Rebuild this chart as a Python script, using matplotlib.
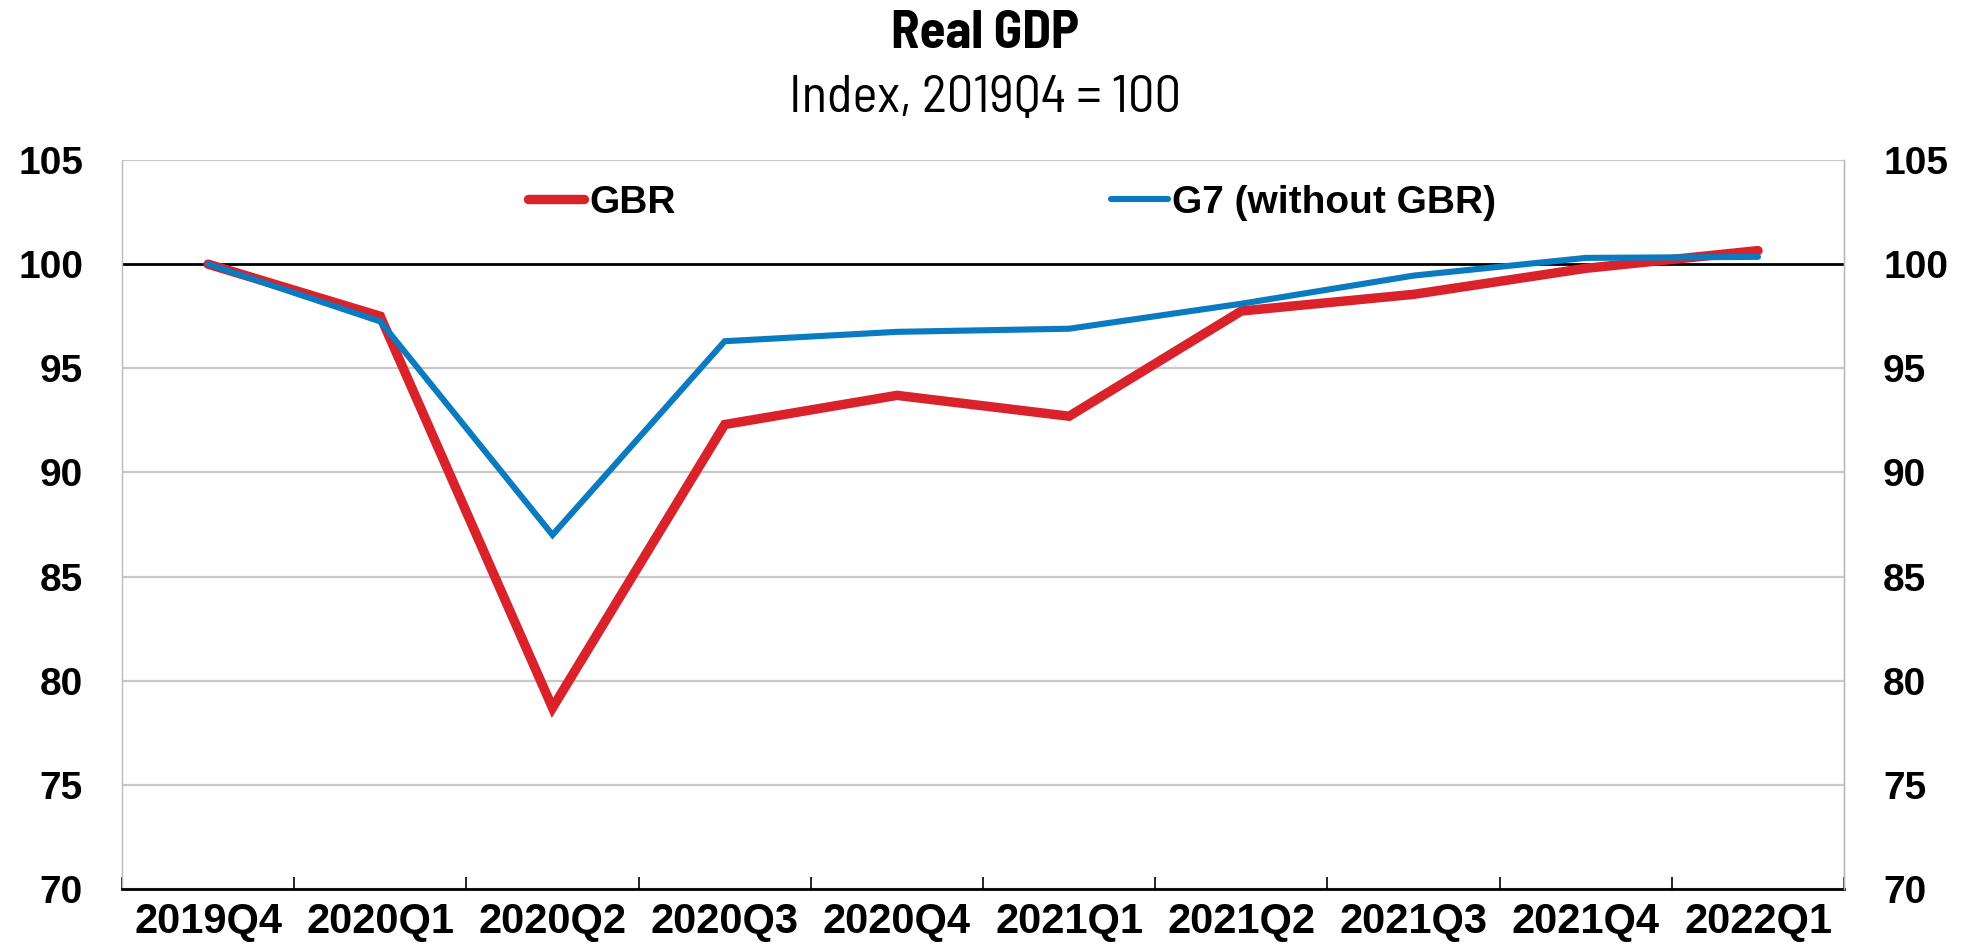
import matplotlib

matplotlib.use("Agg")
import matplotlib.pyplot as plt
from matplotlib import font_manager
import numpy as np

quarters = ["2019Q4", "2020Q1", "2020Q2", "2020Q3", "2020Q4",
            "2021Q1", "2021Q2", "2021Q3", "2021Q4", "2022Q1"]
gbr = [100.0, 97.5, 78.7, 92.3, 93.7, 92.7, 97.75, 98.55, 99.8, 100.65]
g7_ex_gbr = [100.0, 97.25, 87.0, 96.3, 96.75, 96.9, 98.1, 99.45, 100.3, 100.35]
yticks = [70, 75, 80, 85, 90, 95, 100, 105]

TITLE = "Real GDP"
SUBTITLE = "Index, 2019Q4 = 100"

RED = "#D9222A"
BLUE = "#0A7BC1"
GRID = "#C8C8C8"
SANS = ["Liberation Sans", "DejaVu Sans"]
SANS_NAMES = ("liberation", "dejavu", "noto sans", "roboto", "open sans",
              "lato", "inter", "narrow", "condensed")

WEIGHTS = {"ultralight": 200, "light": 300, "normal": 400, "regular": 400,
           "book": 400, "medium": 500, "roman": 400, "semibold": 600,
           "demibold": 600, "demi": 600, "bold": 700, "heavy": 800,
           "extra bold": 800, "black": 900}


def weight_of(f):
    w = f.weight
    if isinstance(w, str):
        return WEIGHTS.get(w.lower(), 400)
    return int(w)


fig = plt.figure(figsize=(19.7, 9.49), dpi=100)
renderer = fig.canvas.get_renderer()


def pick_font(text, target_w, wmin, wmax, family=None, size=38):
    # plain sans face whose width at this size is closest to the reference
    best, best_err, best_name = None, None, None
    for f in font_manager.fontManager.ttflist:
        name = f.name.lower()
        if family is not None and f.name != family:
            continue
        if not any(k in name for k in SANS_NAMES) or "cjk" in name or "mono" in name:
            continue
        if f.style != "normal" or not (wmin <= weight_of(f) <= wmax):
            continue
        prop = font_manager.FontProperties(fname=f.fname, size=size)
        try:
            w, h, d = renderer.get_text_width_height_descent(text, prop, ismath=False)
        except Exception:
            continue
        err = abs(w - target_w)
        if best_err is None or err < best_err:
            best, best_err, best_name = prop, err, f.name
    return best, best_name


title_prop, title_family = pick_font(TITLE, 188, 600, 800)
sub_prop, _ = pick_font(SUBTITLE, 411, 350, 450, family=title_family)
if sub_prop is None:
    sub_prop, _ = pick_font(SUBTITLE, 411, 350, 450)
if title_prop is None:
    title_prop = font_manager.FontProperties(family=SANS, weight="bold", size=31)
if sub_prop is None:
    sub_prop = font_manager.FontProperties(family=SANS, size=32)

ax = fig.add_axes([0.0619, 0.0632, 0.8742, 0.7682])

x = np.arange(len(quarters))
ax.set_xlim(-0.5, len(quarters) - 0.5)
ax.set_ylim(70, 105)

# grid
for v in yticks:
    if v == 100:
        continue
    ax.axhline(v, color=GRID, lw=1.6, zorder=1)
ax.axhline(100, color="black", lw=2.0, zorder=2)

l1, = ax.plot(x, gbr, color=RED, lw=6.8, solid_capstyle="round",
              solid_joinstyle="miter", zorder=3, label="GBR")
l2, = ax.plot(x, g7_ex_gbr, color=BLUE, lw=4.4, solid_capstyle="round",
              solid_joinstyle="miter", zorder=4, label="G7 (without GBR)")

# axes styling
for side in ["left", "right"]:
    ax.spines[side].set_color("#BBBBBB")
    ax.spines[side].set_linewidth(1.0)
ax.spines["top"].set_visible(False)
ax.spines["bottom"].set_color("black")
ax.spines["bottom"].set_linewidth(2.0)

ax.set_xticks(x)
ax.set_xticklabels(quarters, fontsize=30, fontweight="bold", family=SANS)
ax.tick_params(axis="x", which="major", length=0, pad=9)
ax.set_xticks(np.arange(-0.5, len(quarters), 1.0), minor=True)
ax.tick_params(axis="x", which="minor", direction="in", length=8.5,
               width=1.2, color="black")

ax.set_yticks(yticks)
ax.set_yticklabels([str(v) for v in yticks], fontsize=28, fontweight="bold", family=SANS)
ax.tick_params(axis="y", length=0, pad=28)

ax2 = ax.twinx()
ax2.set_ylim(ax.get_ylim())
ax2.set_yticks(yticks)
ax2.set_yticklabels([str(v) for v in yticks], fontsize=28, fontweight="bold", family=SANS)
ax2.tick_params(axis="y", length=0, pad=28)
for side in ["left", "top", "bottom"]:
    ax2.spines[side].set_visible(False)
ax2.spines["right"].set_color("#BBBBBB")
ax2.spines["right"].set_linewidth(1.0)

leg = ax.legend(handles=[l1, l2], ncol=2, loc="center left",
                bbox_to_anchor=(528 / 1970, 1 - 203 / 949),
                bbox_transform=fig.transFigure, frameon=False,
                prop={"family": SANS, "weight": "bold", "size": 28},
                handlelength=1.45, handletextpad=0.12, columnspacing=11.2,
                borderpad=0, borderaxespad=0)

fig.text(0.5, 1 - 48 / 949, TITLE, ha="center", va="baseline",
         fontproperties=title_prop)
fig.text(0.5, 1 - 112 / 949, SUBTITLE, ha="center", va="baseline",
         fontproperties=sub_prop)

fig.savefig("out.png", dpi=100, facecolor="white")
